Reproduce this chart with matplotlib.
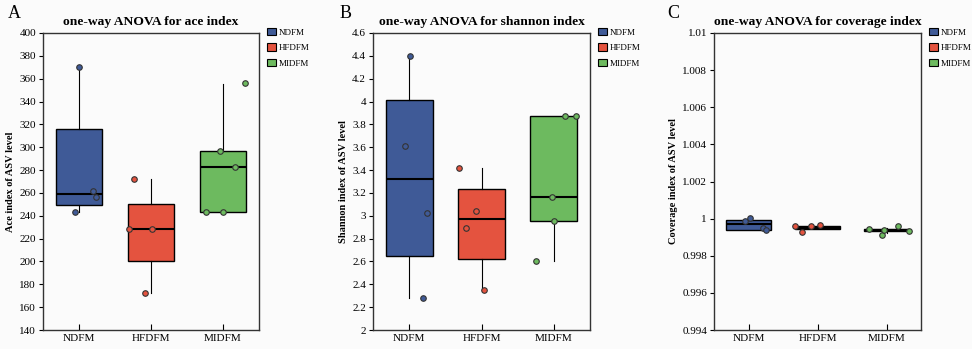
import numpy as np
import matplotlib
matplotlib.use('Agg')
import matplotlib.pyplot as plt
from matplotlib.patches import Patch
from matplotlib.ticker import FuncFormatter

# ------------------
# DATA
# ------------------
groups = ['NDFM', 'HFDFM', 'MIDFM']
colors = ['#3f5a97', '#e4533f', '#6dba5f']

# ace index: box stats per group (whislo, q1, med, q3, whishi)
ace_whislo = [243, 172, 243]
ace_q1 = [249, 200, 243]
ace_med = [259, 228, 283]
ace_q3 = [316, 250, 297]
ace_whishi = [370, 272, 355]
ace_points = [[370, 262, 256, 243],
              [272, 228, 228, 172],
              [356, 297, 283, 243, 243]]
ace_jitter = [[0.0, 0.19, 0.24, -0.06],
              [-0.23, -0.31, 0.02, -0.09],
              [0.30, -0.04, 0.17, -0.24, 0.0]]

# shannon index
sh_whislo = [2.28, 2.35, 2.60]
sh_q1 = [2.65, 2.62, 2.95]
sh_med = [3.32, 2.97, 3.16]
sh_q3 = [4.01, 3.23, 3.87]
sh_whishi = [4.40, 3.42, 3.87]
sh_points = [[4.40, 3.61, 3.02, 2.28],
             [3.42, 3.04, 2.89, 2.35],
             [3.87, 3.87, 3.16, 2.95, 2.60]]
sh_jitter = [[0.01, -0.06, 0.24, 0.19],
             [-0.31, -0.07, -0.22, 0.03],
             [0.15, 0.30, -0.03, 0.0, -0.25]]

# coverage index
cov_whislo = [0.99941, 0.99942, 0.99925]
cov_q1 = [0.99941, 0.99942, 0.99935]
cov_med = [0.99972, 0.99952, 0.99940]
cov_q3 = [0.99993, 0.99962, 0.99945]
cov_whishi = [0.99993, 0.99962, 0.99948]
cov_points = [[0.99987, 1.00002, 0.99950, 0.99941],
              [0.99959, 0.99928, 0.99959, 0.99964],
              [0.99944, 0.99914, 0.99937, 0.99960, 0.99933]]
cov_jitter = [[-0.05, 0.02, 0.21, 0.26],
              [-0.33, -0.23, -0.09, 0.03],
              [-0.25, -0.06, -0.03, 0.16, 0.32]]

panels = [
    ('A', 'one-way ANOVA for ace index', 'Ace index of ASV level',
     (ace_whislo, ace_q1, ace_med, ace_q3, ace_whishi), ace_points, ace_jitter,
     (140, 400), np.arange(140, 401, 20)),
    ('B', 'one-way ANOVA for shannon index', 'Shannon index of ASV level',
     (sh_whislo, sh_q1, sh_med, sh_q3, sh_whishi), sh_points, sh_jitter,
     (2, 4.6), np.arange(2, 4.61, 0.2)),
    ('C', 'one-way ANOVA for coverage index', 'Coverage index of ASV level',
     (cov_whislo, cov_q1, cov_med, cov_q3, cov_whishi), cov_points, cov_jitter,
     (0.994, 1.01), np.arange(0.994, 1.0101, 0.002)),
]

# ------------------
# FIGURE
# ------------------
plt.rcParams['font.family'] = ['Liberation Serif', 'DejaVu Serif']

fig = plt.figure(figsize=(9.72, 3.49), dpi=100, facecolor='#fbfbfb')

ax_rects = [
    [43 / 972, 19 / 349, 216 / 972, 297 / 349],
    [373 / 972, 19 / 349, 217 / 972, 297 / 349],
    [714 / 972, 19 / 349, 207 / 972, 297 / 349],
]
letter_x = [8 / 972, 340 / 972, 667 / 972]


def fmt(v, pos):
    return '%g' % round(v, 6)


for rect, lx, (letter, title, ylabel, stats, points, jitter, ylim, yticks) in zip(ax_rects, letter_x, panels):
    ax = fig.add_axes(rect)
    ax.set_facecolor('#fbfbfb')

    whislo, q1, med, q3, whishi = stats
    bxp_stats = []
    for i in range(len(groups)):
        bxp_stats.append(dict(whislo=whislo[i], q1=q1[i], med=med[i],
                              q3=q3[i], whishi=whishi[i], fliers=[]))

    bp = ax.bxp(bxp_stats, positions=range(len(groups)), widths=0.65,
                patch_artist=True, showcaps=False, showfliers=False,
                boxprops=dict(edgecolor='black', linewidth=1.0),
                whiskerprops=dict(color='black', linewidth=0.8),
                medianprops=dict(color='black', linewidth=1.5))
    for patch, c in zip(bp['boxes'], colors):
        patch.set_facecolor(c)

    for i, (pts, jit) in enumerate(zip(points, jitter)):
        ax.scatter(np.array(jit) + i, pts, s=16, color=colors[i],
                   edgecolor='#333333', linewidth=0.8, zorder=5)

    ax.set_xlim(-0.5, 2.5)
    ax.set_ylim(*ylim)
    ax.set_yticks(yticks)
    ax.yaxis.set_major_formatter(FuncFormatter(fmt))
    ax.set_xticks(range(len(groups)))
    ax.set_xticklabels(groups, fontsize=8)
    ax.tick_params(axis='y', direction='out', length=3, labelsize=8, pad=2)
    ax.tick_params(axis='x', direction='in', length=4, labelsize=8, pad=3)
    for s in ax.spines.values():
        s.set_linewidth(1.0)
        s.set_color('#333333')

    ax.set_ylabel(ylabel, fontsize=7.5, fontweight='bold', labelpad=3)
    ax.set_title(title, fontsize=9.7, fontweight='bold', pad=6)
    fig.text(lx, 0.96, letter, fontsize=13, va='center', ha='left')

    handles = [Patch(facecolor=c, edgecolor='black', linewidth=0.8) for c in colors]
    ax.legend(handles, groups, loc='upper left', bbox_to_anchor=(1.02, 1.03),
              frameon=False, fontsize=6.5, handlelength=1.0, handleheight=0.9,
              handletextpad=0.3, labelspacing=0.75, borderaxespad=0)

fig.savefig('out.png', dpi=100, facecolor=fig.get_facecolor())
